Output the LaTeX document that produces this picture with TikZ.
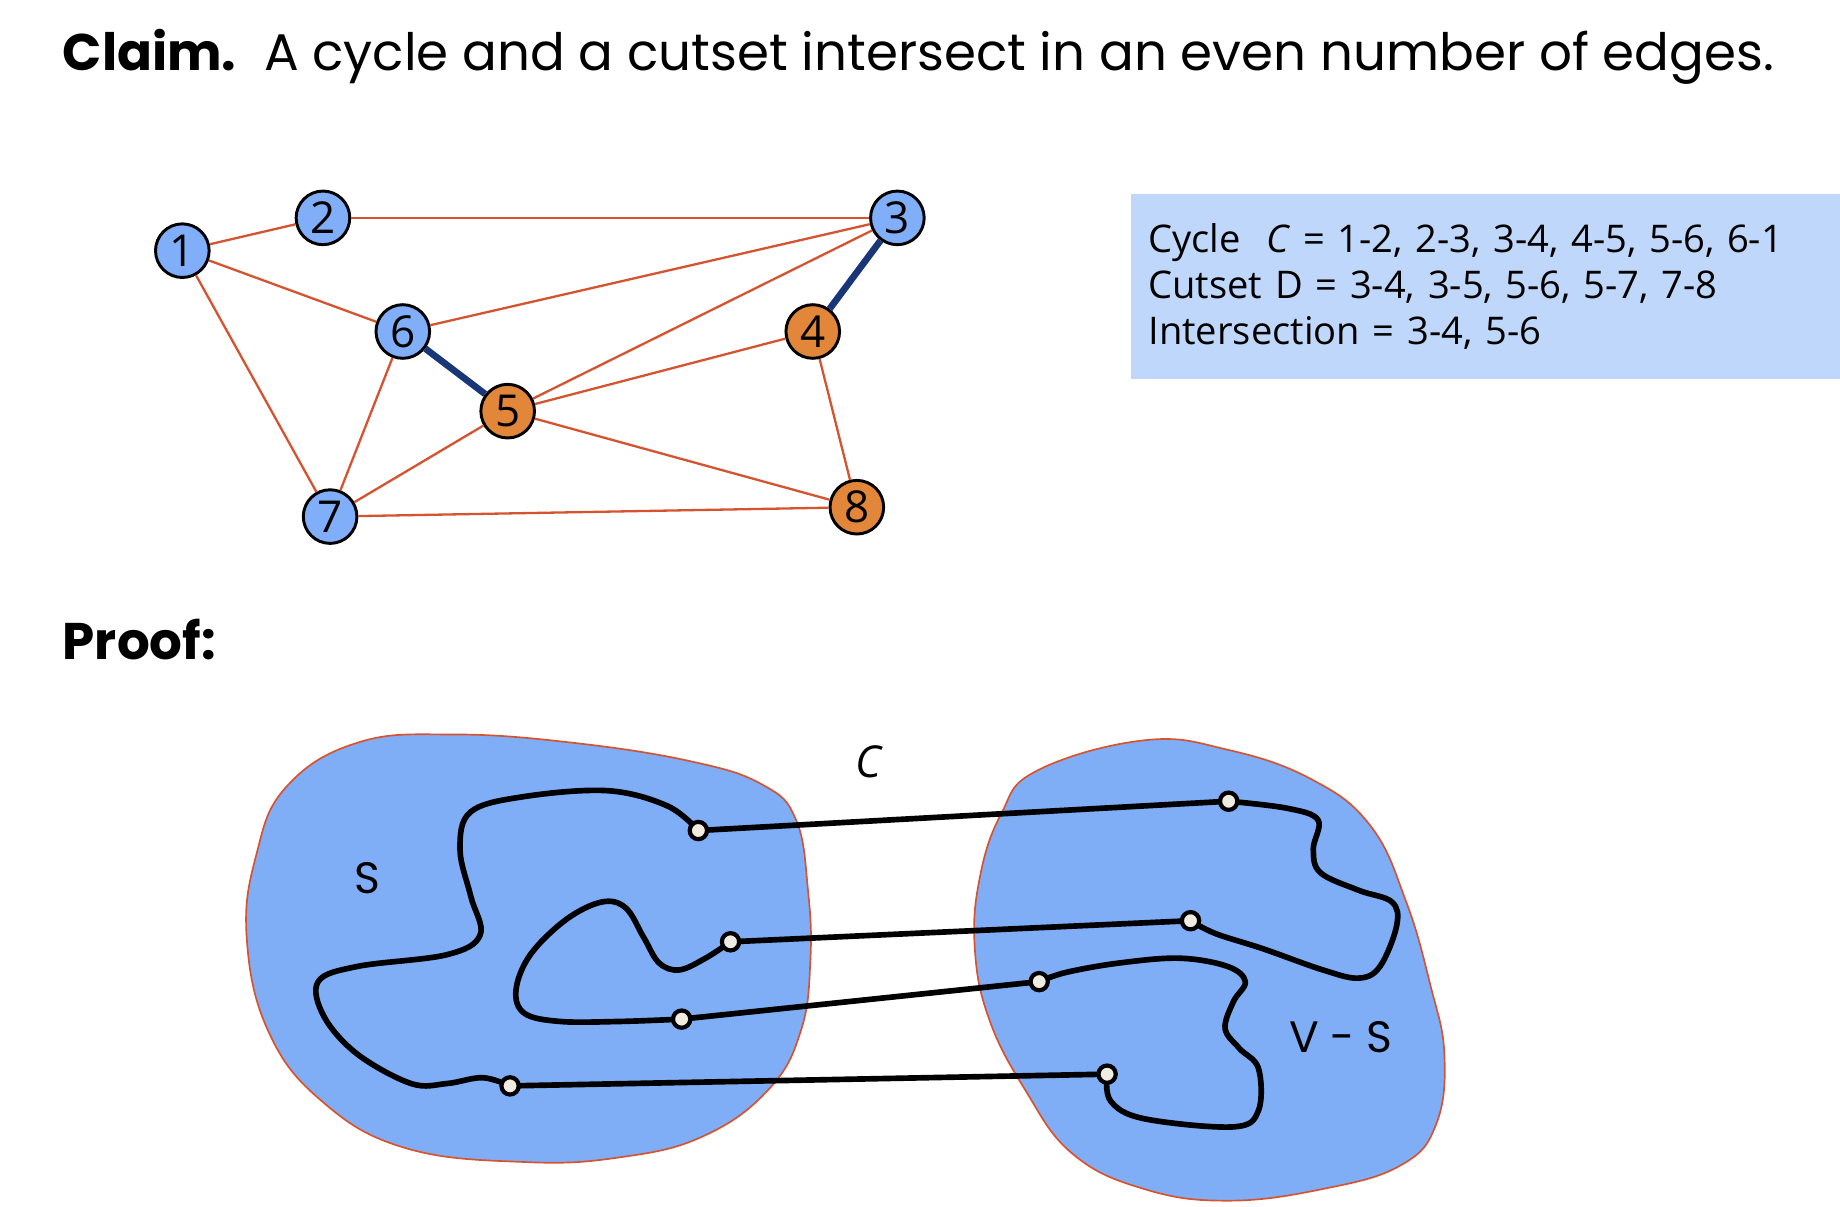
\documentclass[tikz,border=0pt]{standalone}
\usepackage{fontspec}
\setmainfont{Poppins}
\newfontfamily\handfont{Open Sans}
\usepackage{tikz}
\usetikzlibrary{positioning}
\definecolor{nodeblue}{RGB}{128,174,248}
\definecolor{nodeorange}{RGB}{226,134,58}
\definecolor{edgered}{RGB}{214,83,48}
\definecolor{cutnavy}{RGB}{25,55,120}
\definecolor{boxblue}{RGB}{191,215,250}
\definecolor{blobblue}{RGB}{128,174,246}
\definecolor{dotcream}{RGB}{240,237,224}

\begin{document}
\begin{tikzpicture}[
        x=0.1mm, y=-0.0983mm,
        vtx/.style={circle, draw=black, line width=0.7pt, minimum size=4.5mm, inner sep=0pt, font=\handfont\fontsize{10.5}{11}\selectfont},
        sideS/.style={vtx, fill=nodeblue},
        sideT/.style={vtx, fill=nodeorange},
        edge/.style={edgered, line width=0.55pt},
        cutedge/.style={cutnavy, line width=1.6pt},
        infobox/.style={rectangle, fill=boxblue, anchor=north west, minimum width=59.6mm, minimum height=15.5mm, text width=56.6mm, inner xsep=1.5mm, align=left, font=\handfont\fontsize{9.1}{11}\selectfont},
        blob/.style={fill=blobblue, draw=edgered, line width=0.4pt},
        wire/.style={line width=1.35pt, line join=round},
        cdot/.style={circle, draw=black, fill=dotcream, line width=1pt, minimum size=1.45mm, inner sep=0pt}
    ]
        \useasboundingbox (0,0) rectangle (1544,1030);

        % Headings
        \node[anchor=base west, inner sep=0pt, font=\fontsize{12.3}{14}\selectfont] (claim) at (52,60) {\textbf{Claim.}\ \ A cycle and a cutset intersect in an even number of edges.};
        \node[anchor=base west, inner sep=0pt, font=\fontsize{12.3}{14}\selectfont\bfseries] (proof) at (52,563) {Proof:};

        % Graph
        \node[sideS] (v1) at (153,214) {1};
        \node[sideS] (v2) at (271,186) {2};
        \node[sideS] (v3) at (753,186) {3};
        \node[sideT] (v4) at (682,283) {4};
        \node[sideT] (v5) at (426,351) {5};
        \node[sideS] (v6) at (338,283) {6};
        \node[sideS] (v7) at (277,441) {7};
        \node[sideT] (v8) at (719,433) {8};

        \draw[edge] (v1) -- (v2);
        \draw[edge] (v2) -- (v3);
        \draw[edge] (v1) -- (v6);
        \draw[edge] (v1) -- (v7);
        \draw[edge] (v6) -- (v3);
        \draw[edge] (v6) -- (v7);
        \draw[edge] (v5) -- (v3);
        \draw[edge] (v5) -- (v4);
        \draw[edge] (v5) -- (v7);
        \draw[edge] (v5) -- (v8);
        \draw[edge] (v4) -- (v8);
        \draw[edge] (v7) -- (v8);
        \draw[cutedge] (v6) -- (v5);
        \draw[cutedge] (v3) -- (v4);

        % Cycle and cutset
        \node[infobox] (info) at (948,165) {Cycle\ \ \textit{C} = 1-2, 2-3, 3-4, 4-5, 5-6, 6-1\\Cutset D = 3-4, 3-5, 5-6, 5-7, 7-8\\Intersection = 3-4, 5-6};

        % Proof picture: S and V - S
        \draw[blob] plot[smooth cycle, tension=0.7] coordinates {(240,672) (300,634) (380,627) (480,634) (580,650) (640,670) (668,700) (678,760) (680,820) (672,880) (645,930) (590,970) (520,988) (440,992) (340,980) (270,940) (225,880) (207,800) (215,730)};
        \draw[blob] plot[smooth cycle, tension=0.7] coordinates {(870,658) (960,632) (1030,640) (1100,665) (1150,705) (1180,770) (1200,840) (1212,900) (1205,960) (1175,995) (1110,1015) (1030,1025) (960,1015) (900,985) (860,930) (830,870) (818,810) (822,750) (840,695)};

        \node[font=\fontsize{10.5}{12}\selectfont] (lblS) at (308,750) {S};
        \node[font=\fontsize{10.5}{12}\selectfont] (lblVS) at (1125,885) {V - S};
        \node[font=\handfont\itshape\fontsize{10.5}{12}\selectfont] (lblC) at (729,650) {C};

        \coordinate (pa) at (586,709);
        \coordinate (pb) at (428,927);
        \coordinate (pc) at (872,838);
        \coordinate (pd) at (572,870);
        \coordinate (pe) at (613,804);
        \coordinate (pf) at (999,786);
        \coordinate (pg) at (1031,684);
        \coordinate (ph) at (929,917);

        % Cycle C
        \draw[wire] plot[smooth, tension=0.6] coordinates {(pa) (560,688) (510,675) (440,680) (395,693) (386,725) (395,765) (403,798) (375,815) (300,825) (267,838) (272,868) (300,900) (345,925) (375,925) (405,920) (pb)};
        \draw[wire] (pb) -- (ph);
        \draw[wire] plot[smooth, tension=0.6] coordinates {(ph) (932,940) (960,955) (1035,962) (1056,948) (1056,912) (1040,895) (1028,878) (1035,855) (1045,838) (1030,825) (990,818) (940,822) (895,830) (pc)};
        \draw[wire] (pc) -- (pd);
        \draw[wire] plot[smooth, tension=0.6] coordinates {(pd) (520,872) (470,872) (440,865) (433,845) (445,815) (475,785) (505,770) (525,775) (540,800) (553,822) (570,828) (592,818) (pe)};
        \draw[wire] (pe) -- (pf);
        \draw[wire] plot[smooth, tension=0.6] coordinates {(pf) (1020,797) (1060,810) (1110,828) (1140,835) (1158,825) (1172,790) (1168,770) (1140,760) (1108,745) (1102,725) (1106,700) (1080,690) (pg)};
        \draw[wire] (pg) -- (pa);

        \foreach \p in {pa,pb,pc,pd,pe,pf,pg,ph}
            \node[cdot] (dot-\p) at (\p) {};

    \end{tikzpicture}
\end{document}
